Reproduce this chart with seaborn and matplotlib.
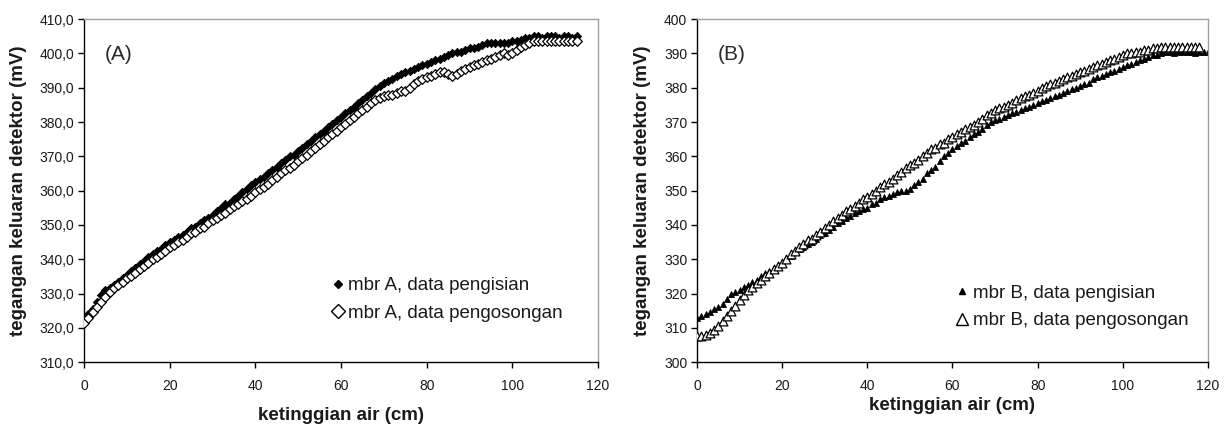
import matplotlib
matplotlib.use("Agg")
import matplotlib.pyplot as plt
import seaborn as sns
import pandas as pd
from matplotlib.lines import Line2D
from matplotlib.ticker import FuncFormatter

# --- data ---
# panel A: ketinggian air (cm) vs tegangan (mV)
tinggi_a = [0, 1, 2, 3, 4, 5, 6, 7, 8, 9, 10, 11, 12, 13, 14, 15, 16, 17, 18, 19,
            20, 21, 22, 23, 24, 25, 26, 27, 28, 29, 30, 31, 32, 33, 34, 35, 36, 37, 38, 39,
            40, 41, 42, 43, 44, 45, 46, 47, 48, 49, 50, 51, 52, 53, 54, 55, 56, 57, 58, 59,
            60, 61, 62, 63, 64, 65, 66, 67, 68, 69, 70, 71, 72, 73, 74, 75, 76, 77, 78, 79,
            80, 81, 82, 83, 84, 85, 86, 87, 88, 89, 90, 91, 92, 93, 94, 95, 96, 97, 98, 99,
            100, 101, 102, 103, 104, 105, 106, 107, 108, 109, 110, 111, 112, 113, 114, 115]
a_pengisian = [322.5, 324.0, 325.5, 327.5, 329.5, 331.0, 331.5, 332.5, 333.5, 334.5,
               335.5, 336.5, 337.5, 338.5, 339.5, 340.5, 341.5, 342.5, 343.0, 344.0,
               345.0, 345.5, 346.5, 347.0, 348.0, 349.0, 349.5, 350.5, 351.5, 352.0,
               353.0, 354.0, 355.0, 356.0, 356.5, 357.5, 358.5, 359.5, 360.5, 361.5,
               362.5, 363.5, 364.0, 365.0, 366.0, 367.0, 368.0, 369.0, 370.0, 370.5,
               371.5, 372.5, 373.5, 374.5, 375.5, 376.5, 377.5, 378.5, 379.5, 380.5,
               381.5, 382.5, 383.5, 384.5, 385.5, 386.5, 387.5, 388.5, 389.5, 390.5,
               391.5, 392.0, 392.5, 393.5, 394.0, 394.5, 395.0, 395.5, 396.0, 396.5,
               397.0, 397.5, 398.0, 398.5, 399.0, 399.5, 400.0, 400.5, 400.5, 401.0,
               401.5, 401.5, 402.0, 402.5, 403.0, 403.0, 403.0, 403.0, 403.0, 403.0,
               403.5, 403.5, 404.0, 404.5, 404.5, 405.0, 405.0, 404.5, 405.0, 405.0,
               405.0, 404.5, 405.0, 405.0, 404.5, 405.0]
a_pengosongan = [321.5, 323.0, 324.5, 326.0, 327.5, 329.0, 330.5, 331.5, 332.5, 333.5,
                 334.5, 335.0, 336.0, 337.0, 338.0, 339.0, 340.0, 340.5, 341.5, 342.5,
                 343.5, 344.0, 345.0, 345.5, 346.5, 347.5, 348.0, 349.0, 349.5, 350.5,
                 351.5, 352.0, 353.0, 353.5, 354.5, 355.5, 356.0, 357.0, 357.5, 358.5,
                 359.5, 360.5, 361.0, 362.0, 363.0, 364.0, 365.0, 366.0, 366.5, 367.5,
                 368.5, 369.5, 370.5, 371.5, 372.5, 373.5, 374.5, 375.5, 376.5, 377.5,
                 378.5, 379.5, 380.5, 381.5, 382.5, 383.5, 384.5, 385.5, 386.5, 387.0,
                 387.5, 388.0, 388.0, 388.5, 389.0, 389.0, 390.0, 391.0, 392.0, 392.5,
                 393.0, 393.5, 394.0, 394.5, 394.5, 394.0, 393.5, 394.0, 395.0, 395.5,
                 396.0, 396.5, 397.0, 397.5, 398.0, 398.5, 399.0, 399.5, 400.0, 399.5,
                 400.0, 401.0, 402.0, 402.5, 403.0, 403.5, 403.5, 403.5, 403.5, 403.5,
                 403.5, 403.5, 403.5, 403.5, 403.5, 403.5]

# panel B
tinggi_b_isi = [0, 1, 2, 3, 4, 5, 6, 7, 8, 9, 10, 11, 12, 13, 14, 15, 16, 17, 18, 19,
                20, 21, 22, 23, 24, 25, 26, 27, 28, 29, 30, 31, 32, 33, 34, 35, 36, 37, 38, 39,
                40, 41, 42, 43, 44, 45, 46, 47, 48, 49, 50, 51, 52, 53, 54, 55, 56, 57, 58, 59,
                60, 61, 62, 63, 64, 65, 66, 67, 68, 69, 70, 71, 72, 73, 74, 75, 76, 77, 78, 79,
                80, 81, 82, 83, 84, 85, 86, 87, 88, 89, 90, 91, 92, 93, 94, 95, 96, 97, 98, 99,
                100, 101, 102, 103, 104, 105, 106, 107, 108, 109, 110, 111, 112, 113, 114, 115,
                116, 117, 118, 119, 120]
b_pengisian = [313.0, 313.5, 314.0, 314.5, 315.5, 316.0, 317.0, 318.5, 320.0, 320.5,
               321.0, 322.0, 322.5, 323.5, 324.0, 325.0, 326.0, 326.5, 327.5, 328.0,
               329.0, 330.0, 331.0, 332.0, 333.0, 333.5, 334.5, 335.0, 336.0, 337.0,
               337.5, 338.5, 339.5, 340.5, 341.0, 342.0, 342.5, 343.5, 344.0, 344.5,
               345.0, 346.0, 346.5, 347.5, 348.0, 348.5, 349.0, 349.5, 350.0, 350.0,
               350.5, 351.5, 352.5, 353.5, 355.0, 356.0, 357.0, 358.5, 360.0, 361.0,
               362.0, 363.0, 364.0, 364.5, 365.5, 366.5, 367.0, 368.0, 369.0, 370.0,
               370.5, 371.0, 371.5, 372.0, 372.5, 373.0, 373.5, 374.0, 374.5, 375.0,
               375.5, 376.0, 376.5, 377.0, 377.5, 378.0, 378.5, 379.0, 379.5, 380.0,
               380.5, 381.0, 381.5, 382.5, 383.0, 383.5, 384.0, 384.5, 385.0, 385.5,
               386.0, 386.5, 387.0, 387.5, 388.0, 388.5, 389.0, 389.5, 389.5, 390.0,
               390.5, 390.5, 390.0, 390.5, 390.5, 390.5, 390.5, 390.0, 390.5, 390.5,
               390.5]
tinggi_b_kosong = [0, 1, 2, 3, 4, 5, 6, 7, 8, 9, 10, 11, 12, 13, 14, 15, 16, 17, 18, 19,
                   20, 21, 22, 23, 24, 25, 26, 27, 28, 29, 30, 31, 32, 33, 34, 35, 36, 37, 38, 39,
                   40, 41, 42, 43, 44, 45, 46, 47, 48, 49, 50, 51, 52, 53, 54, 55, 56, 57, 58, 59,
                   60, 61, 62, 63, 64, 65, 66, 67, 68, 69, 70, 71, 72, 73, 74, 75, 76, 77, 78, 79,
                   80, 81, 82, 83, 84, 85, 86, 87, 88, 89, 90, 91, 92, 93, 94, 95, 96, 97, 98, 99,
                   100, 101, 102, 103, 104, 105, 106, 107, 108, 109, 110, 111, 112, 113, 114, 115,
                   116, 117, 118]
b_pengosongan = [307.5, 307.5, 308.0, 308.5, 309.5, 310.5, 312.0, 313.5, 315.0, 316.5,
                 318.0, 319.5, 321.0, 322.0, 323.0, 324.0, 325.0, 326.0, 327.0, 328.0,
                 329.0, 330.0, 331.5, 332.5, 333.5, 334.5, 335.5, 336.0, 337.0, 338.0,
                 339.0, 340.0, 341.0, 342.0, 343.0, 344.0, 344.5, 345.5, 346.5, 347.5,
                 348.0, 349.0, 350.0, 351.0, 352.0, 352.5, 353.5, 354.5, 355.5, 356.5,
                 357.5, 358.0, 359.0, 360.0, 361.0, 362.0, 362.5, 363.5, 364.0, 365.0,
                 365.5, 366.5, 367.0, 368.0, 368.5, 369.0, 370.0, 371.0, 372.0, 372.5,
                 373.5, 374.0, 374.5, 375.0, 375.5, 376.5, 377.0, 377.5, 378.0, 378.5,
                 379.0, 380.0, 380.5, 381.0, 381.5, 382.0, 382.5, 383.0, 383.5, 384.0,
                 384.5, 385.0, 385.5, 386.0, 386.5, 387.0, 387.5, 388.0, 388.5, 389.0,
                 389.5, 390.0, 390.0, 390.5, 390.5, 391.0, 391.0, 391.5, 391.5, 392.0,
                 392.0, 392.0, 392.0, 392.0, 392.0, 392.0, 392.0, 392.0, 392.0]

x_ticks = [0, 20, 40, 60, 80, 100, 120]
y_ticks_a = [310, 320, 330, 340, 350, 360, 370, 380, 390, 400, 410]
y_ticks_b = [300, 310, 320, 330, 340, 350, 360, 370, 380, 390, 400]

sns.set_style("white")
plt.rcParams["font.family"] = ["Liberation Sans", "DejaVu Sans"]

df_a1 = pd.DataFrame({"x": tinggi_a, "y": a_pengisian})
df_a2 = pd.DataFrame({"x": tinggi_a, "y": a_pengosongan})
df_b1 = pd.DataFrame({"x": tinggi_b_isi, "y": b_pengisian})
df_b2 = pd.DataFrame({"x": tinggi_b_kosong, "y": b_pengosongan})

fig = plt.figure(figsize=(12.28, 4.25), dpi=100)
ax1 = fig.add_axes([0.0684, 0.148, 0.4186, 0.807])
ax2 = fig.add_axes([0.5676, 0.148, 0.4161, 0.807])

txt = "#1a1a1a"


def style_axes(ax, yticks, fmt, ylabelpad, xlabelpad):
    ax.set_xlim(0, 120)
    ax.set_ylim(yticks[0], yticks[-1])
    ax.set_xticks(x_ticks)
    ax.set_yticks(yticks)
    ax.yaxis.set_major_formatter(FuncFormatter(fmt))
    ax.tick_params(axis="both", direction="out", length=4, width=1, colors="black",
                   labelcolor=txt, labelsize=10, pad=3)
    ax.tick_params(axis="x", pad=8)
    ax.tick_params(left=True, bottom=True)
    for s in ["left", "bottom"]:
        ax.spines[s].set_color("black")
        ax.spines[s].set_linewidth(1)
    for s in ["top", "right"]:
        ax.spines[s].set_color("#a0a0a0")
        ax.spines[s].set_linewidth(1)
    ax.set_xlabel("ketinggian air (cm)", fontsize=13.5, fontweight="bold", color=txt,
                  labelpad=xlabelpad)
    ax.set_ylabel("tegangan keluaran detektor (mV)", fontsize=13.5, fontweight="bold",
                  color=txt, labelpad=ylabelpad)
    ax.grid(False)


# panel A
sns.scatterplot(data=df_a1, x="x", y="y", ax=ax1, marker="D", s=18, color="black",
                edgecolor="black", linewidth=0.6, legend=False, zorder=2)
sns.scatterplot(data=df_a2, x="x", y="y", ax=ax1, marker="D", s=24, facecolor="white",
                edgecolor="black", linewidth=0.9, legend=False, zorder=3)
style_axes(ax1, y_ticks_a, lambda v, p: f"{v:.1f}".replace(".", ","), 9, 10)
ax1.text(0.04, 0.88, "(A)", transform=ax1.transAxes, fontsize=15, color="#2a2a2a")
h_a = [Line2D([], [], ls="none", marker="D", ms=4, color="black"),
       Line2D([], [], ls="none", marker="D", ms=7, mfc="white", mec="black", mew=1)]
ax1.legend(h_a, ["mbr A, data pengisian", "mbr A, data pengosongan"], frameon=False,
           loc="lower left", bbox_to_anchor=(0.45, 0.068), fontsize=13.5,
           handlelength=0.6, handletextpad=0.25, labelspacing=0.55, labelcolor=txt)

# panel B
sns.scatterplot(data=df_b1, x="x", y="y", ax=ax2, marker="^", s=18, color="black",
                edgecolor="black", linewidth=0.6, legend=False, zorder=2)
sns.scatterplot(data=df_b2, x="x", y="y", ax=ax2, marker="^", s=40, facecolor="white",
                edgecolor="black", linewidth=0.9, legend=False, zorder=3)
style_axes(ax2, y_ticks_b, lambda v, p: f"{v:.0f}", 9, 3)
ax2.text(0.04, 0.88, "(B)", transform=ax2.transAxes, fontsize=15, color="#2a2a2a")
h_b = [Line2D([], [], ls="none", marker="^", ms=4, color="black"),
       Line2D([], [], ls="none", marker="^", ms=9, mfc="white", mec="black", mew=1)]
ax2.legend(h_b, ["mbr B, data pengisian", "mbr B, data pengosongan"], frameon=False,
           loc="lower left", bbox_to_anchor=(0.475, 0.046), fontsize=13.5,
           handlelength=0.6, handletextpad=0.25, labelspacing=0.55, labelcolor=txt)

fig.savefig("out.png", dpi=100)
